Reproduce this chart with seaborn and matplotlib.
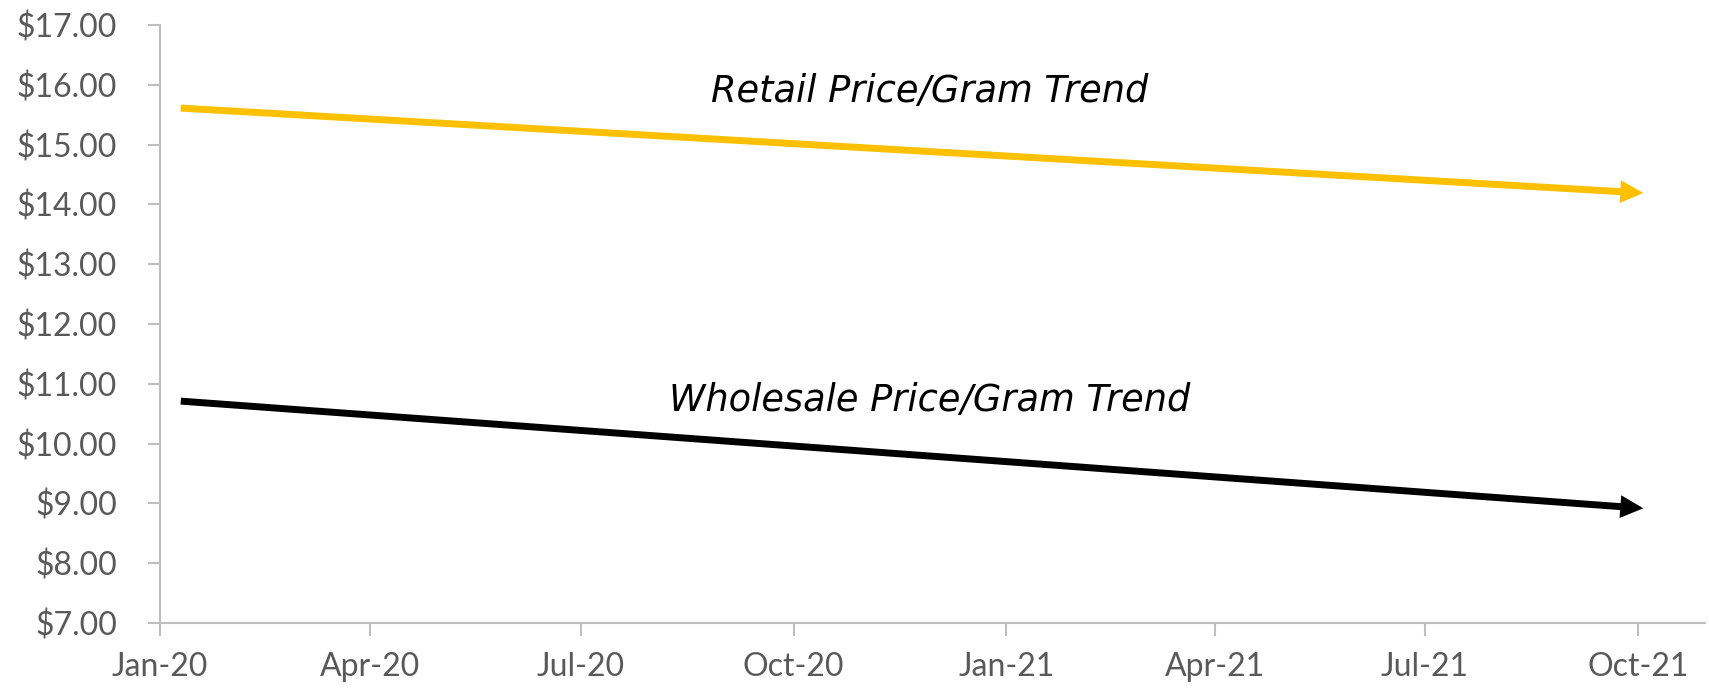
import numpy as np
import pandas as pd
import matplotlib.pyplot as plt
import matplotlib.dates as mdates
import seaborn as sns

# Trend end points
trend_dates = ['2020-01-10', '2021-09-29']
retail_price = [15.61, 14.20]
wholesale_price = [10.71, 8.93]
trend_labels = ['Retail Price/Gram Trend', 'Wholesale Price/Gram Trend']
label_dates = ['2020-11-29', '2020-11-29']
label_values = [15.88, 10.72]
y_ticks = [7, 8, 9, 10, 11, 12, 13, 14, 15, 16, 17]

sns.set_theme(style='white')
plt.rcParams['font.family'] = ['Lato', 'DejaVu Sans']

df = pd.DataFrame({
    'date': pd.to_datetime(trend_dates * 2),
    'price': retail_price + wholesale_price,
    'series': ['Retail'] * 2 + ['Wholesale'] * 2,
})
colors = {'Retail': '#FFC000', 'Wholesale': '#000000'}

fig = plt.figure(figsize=(17.09, 6.89), dpi=100)
ax = fig.add_axes([0.0936, 0.0958, 0.904, 0.868])

sns.lineplot(data=df, x='date', y='price', hue='series', palette=colors,
             linewidth=5, legend=False, ax=ax, solid_capstyle='butt')

# Arrow heads: tip sits a little past the end of the line so it hides the line end
for name in ['Retail', 'Wholesale']:
    sub = df[df['series'] == name]
    x0, x1 = mdates.date2num(sub['date'].iloc[0]), mdates.date2num(sub['date'].iloc[-1])
    y0, y1 = sub['price'].iloc[0], sub['price'].iloc[-1]
    tip = (x1 + 0.007 * (x1 - x0), y1 + 0.007 * (y1 - y0))
    ax.annotate('', xy=tip, xytext=(x0, y0),
                arrowprops=dict(arrowstyle='-|>,head_length=0.83,head_width=0.41',
                                mutation_scale=20, lw=0, color=colors[name],
                                shrinkA=0, shrinkB=0))

# Trend captions (Verdana-like italic)
for txt, d, v in zip(trend_labels, label_dates, label_values):
    ax.text(pd.Timestamp(d), v, txt, ha='center', va='center',
            fontsize=26.5, style='italic', color='black', family='DejaVu Sans')

ax.set_xlim(pd.Timestamp('2020-01-01'), pd.Timestamp('2021-10-30'))
ax.set_ylim(7, 17)
ax.set_yticks(y_ticks)
ax.set_yticklabels([f'${t:.2f}' for t in y_ticks])
ax.xaxis.set_major_locator(mdates.MonthLocator(bymonth=[1, 4, 7, 10]))
ax.xaxis.set_major_formatter(mdates.DateFormatter('%b-%y'))
ax.set_xlabel('')
ax.set_ylabel('')

for side in ['top', 'right']:
    ax.spines[side].set_visible(False)
for side in ['left', 'bottom']:
    ax.spines[side].set_color('#BFBFBF')
    ax.spines[side].set_linewidth(1.5)
ax.tick_params(axis='both', which='major', length=9, width=1.5, color='#BFBFBF',
               labelcolor='#595959', labelsize=23, direction='out',
               left=True, bottom=True)
ax.tick_params(axis='y', pad=22)
ax.tick_params(axis='x', pad=12)

fig.savefig('out.png', dpi=100)
